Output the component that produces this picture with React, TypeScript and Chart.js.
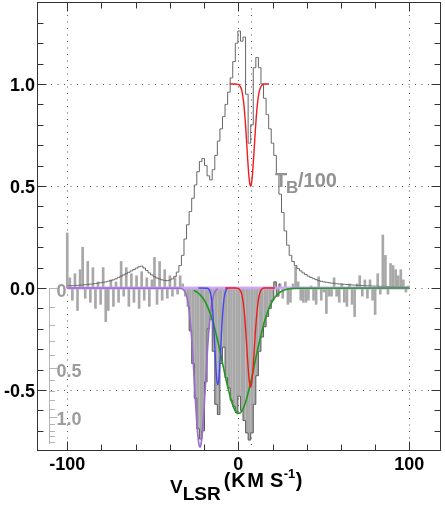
import React, { useEffect, useRef } from 'react';
import { Chart, registerables } from 'chart.js';

Chart.register(...registerables);

// ---- channel grid of the spectra (km/s) ----
const CHANNEL_V0 = -100;
const CHANNEL_DV = 1.5;

// absorption spectrum (e^-tau - 1), one value per channel
const absorption = [
  0.27, 0.05, -0.06, 0.07, -0.11, 0.09, 0.20, -0.05, 0.13, -0.07,
  0.10, -0.10, 0.03, -0.08, 0.10, -0.165, -0.11, 0.04, -0.09, 0.03,
  -0.07, 0.13, -0.04, 0.10, -0.09, 0.07, -0.07, 0.06, -0.10, 0.08,
  -0.06, 0.05, -0.09, 0.04, 0.15, -0.08, 0.13, -0.06, 0.09, -0.05,
  0.06, -0.04, 0.05, -0.03, 0.06, 0.02, -0.04, -0.09, -0.21, -0.37,
  -0.54, -0.69, -0.74, -0.70, -0.46, -0.20, -0.155, -0.31, -0.57, -0.62,
  -0.37, -0.29, -0.44, -0.49, -0.55, -0.58, -0.61, -0.53, -0.60, -0.65,
  -0.71, -0.745, -0.71, -0.57, -0.43, -0.31, -0.24, -0.19, -0.14, -0.10,
  -0.06, 0.03, -0.04, 0.02, -0.05, 0.03, -0.08, -0.07, 0.02, 0.105,
  0.03, -0.06, -0.07, -0.07, -0.06, 0.01, -0.06, -0.08, 0.055, -0.06,
  -0.02, -0.125, -0.04, -0.04, 0.05, -0.04, -0.07, 0.02, -0.07, -0.09,
  0.02, -0.08, -0.14, 0.02, 0.06, -0.04, 0.04, -0.05, 0.04, -0.06,
  -0.13, 0.07, -0.03, 0.26, 0.16, -0.03, 0.12, 0.11, 0.09, 0.06,
  0.09, 0.04, -0.02, 0.01,
];

// emission brightness temperature / 100, one value per channel
const emission = [
  0.010, 0.011, 0.012, 0.012, 0.013, 0.014, 0.015, 0.016, 0.017, 0.019,
  0.020, 0.022, 0.024, 0.026, 0.028, 0.030, 0.033, 0.036, 0.040, 0.045,
  0.052, 0.058, 0.064, 0.070, 0.077, 0.084, 0.090, 0.097, 0.104, 0.107,
  0.098, 0.086, 0.074, 0.064, 0.056, 0.049, 0.044, 0.040, 0.037, 0.036,
  0.039, 0.045, 0.056, 0.078, 0.110, 0.160, 0.240, 0.310, 0.375, 0.440,
  0.505, 0.570, 0.620, 0.635, 0.600, 0.550, 0.530, 0.580, 0.650, 0.720,
  0.780, 0.840, 0.900, 0.960, 1.030, 1.110, 1.200, 1.260, 1.210, 1.230,
  0.950, 0.710, 0.800, 1.080, 1.130, 1.080, 1.000, 0.930, 0.850, 0.780,
  0.710, 0.650, 0.560, 0.460, 0.370, 0.280, 0.210, 0.160, 0.130, 0.110,
  0.095, 0.084, 0.074, 0.066, 0.058, 0.052, 0.046, 0.041, 0.036, 0.033,
  0.030, 0.028, 0.026, 0.024, 0.023, 0.021, 0.020, 0.019, 0.018, 0.017,
  0.016, 0.015, 0.014, 0.013, 0.013, 0.012, 0.011, 0.011, 0.010, 0.010,
  0.009, 0.009, 0.008, 0.008, 0.008, 0.007, 0.007, 0.007, 0.006, 0.006,
  0.006, 0.005, 0.005, 0.005,
];

// range of the absorption spectrum drawn with the dark outline
const OUTLINE_FROM = -30;
const OUTLINE_TO = 25;

// Gaussian fit components
const purpleV = [-100, -34, -33, -32, -31, -30, -29, -28, -27, -26, -25, -24, -23, -22.4, -22, -21, -20, -19, -18, -17, -16, -15, -14, -13, -12];
const purpleY = [0, -0.001, -0.003, -0.009, -0.021, -0.046, -0.093, -0.169, -0.278, -0.414, -0.561, -0.688, -0.767, -0.78, -0.774, -0.709, -0.589, -0.444, -0.303, -0.188, -0.105, -0.054, -0.025, -0.01, -0.004];

const blueV = [-23.3, -18, -17, -16, -15.5, -15, -14.5, -14, -13.5, -13, -12.5, -12, -11.5, -11, -10.5, -10, -9.5, -9, -8.5, -8, -7, -6];
const blueY = [0, -0.001, -0.008, -0.035, -0.064, -0.109, -0.17, -0.246, -0.329, -0.403, -0.456, -0.475, -0.456, -0.403, -0.329, -0.246, -0.17, -0.109, -0.064, -0.035, -0.008, -0.001];

const greenV = [-26, -24, -22, -20, -18, -16, -14, -12, -10, -8, -6, -4, -2, 0, 2, 4, 6, 8, 10, 12, 14, 16, 18, 20, 22, 24, 26, 28, 30, 33, 100];
const greenY = [-0.012, -0.021, -0.036, -0.058, -0.091, -0.135, -0.192, -0.26, -0.337, -0.417, -0.492, -0.555, -0.598, -0.615, -0.604, -0.566, -0.506, -0.433, -0.353, -0.275, -0.205, -0.145, -0.098, -0.064, -0.039, -0.023, -0.013, -0.007, -0.004, -0.001, 0];

const redV = [-7.7, -2, 0, 1, 2, 3, 3.5, 4, 4.5, 5, 5.5, 6, 6.5, 7, 7.2, 7.5, 8, 8.5, 9, 9.5, 10, 10.5, 11, 12, 13, 14, 15, 21.4];
const redY = [0, 0, -0.002, -0.01, -0.03, -0.079, -0.118, -0.169, -0.229, -0.294, -0.36, -0.418, -0.462, -0.483, -0.485, -0.48, -0.454, -0.407, -0.347, -0.281, -0.216, -0.157, -0.109, -0.045, -0.015, -0.004, 0, 0];

// red component shown as e^-tau on top
const redTopV = [-5, -2, 0, 1, 2, 3, 3.5, 4, 4.5, 5, 5.5, 6, 6.5, 7, 7.2, 7.5, 8, 8.5, 9, 9.5, 10, 10.5, 11, 12, 13, 14, 15, 18];
const redTopY = [1, 1, 0.998, 0.99, 0.97, 0.919, 0.878, 0.826, 0.764, 0.697, 0.629, 0.569, 0.524, 0.502, 0.5, 0.505, 0.532, 0.58, 0.642, 0.71, 0.777, 0.838, 0.888, 0.954, 0.984, 0.996, 1, 1];

// zero baseline of the total model
const baseV = [-100, 100];
const baseY = [0, 0];

// axes
const X_MIN = -117.1;
const X_MAX = 118.5;
const Y_MIN = -0.799;
const Y_MAX = 1.402;
const xMinorTicks = [-100, -80, -60, -40, -20, 0, 20, 40, 60, 80, 100];
const xMajorTicks = [-100, 0, 100];
const xTickLabels = ['-100', '0', '100'];
const yMinorTicks = [-0.7, -0.6, -0.5, -0.4, -0.3, -0.2, -0.1, 0, 0.1, 0.2, 0.3, 0.4, 0.5, 0.6, 0.7, 0.8, 0.9, 1.0, 1.1, 1.2, 1.3];
const yMajorTicks = [-0.5, 0, 0.5, 1.0];
const yTickLabels = ['-0.5', '0.0', '0.5', '1.0'];
const gridX = [-100, 0, 7.3, 100];
const gridY = [-0.5, 0, 0.5, 1.0];
const tauTicks = [0, 0.1, 0.2, 0.3, 0.4, 0.5, 0.6, 0.7, 0.8, 0.9, 1.0, 1.1, 1.2, 1.3, 1.4];
const tauMajor = [0, 0.5, 1.0];
const tauLabels = ['0', '0.5', '1.0'];
const TAU_AXIS_END = 1.45;

const FONT = '"Liberation Sans", Arial, Helvetica, sans-serif';

const pts = (xs: number[], ys: number[]) => xs.map((x, i) => ({ x, y: ys[i] }));

const decorPlugin = {
  id: 'decor',
  beforeDatasetsDraw(chart: any) {
    const { ctx, chartArea: a, scales } = chart;
    const x = scales.x, y = scales.y;
    ctx.save();
    ctx.strokeStyle = '#555';
    ctx.lineWidth = 1;
    ctx.setLineDash([1, 5.5]);
    for (const v of gridX) {
      const px = Math.round(x.getPixelForValue(v)) + 0.5;
      ctx.beginPath(); ctx.moveTo(px, a.top); ctx.lineTo(px, a.bottom); ctx.stroke();
    }
    for (const v of gridY) {
      const py = Math.round(y.getPixelForValue(v)) + 0.5;
      ctx.beginPath(); ctx.moveTo(a.left, py); ctx.lineTo(a.right, py); ctx.stroke();
    }
    ctx.restore();
  },
  afterDatasetsDraw(chart: any) {
    const { ctx, chartArea: a, scales } = chart;
    const x = scales.x, y = scales.y;
    const L = a.left - 0.5, R = a.right - 0.5, T = a.top + 0.5, B = a.bottom - 0.5;
    ctx.save();
    // frame
    ctx.strokeStyle = '#333';
    ctx.lineWidth = 1;
    ctx.strokeRect(L, T, R - L, B - T);
    // x ticks
    ctx.beginPath();
    for (const v of xMinorTicks) {
      const len = xMajorTicks.includes(v) ? 9 : 6;
      const px = Math.round(x.getPixelForValue(v)) + 0.5;
      ctx.moveTo(px, B); ctx.lineTo(px, B - len);
      ctx.moveTo(px, T); ctx.lineTo(px, T + len);
    }
    // y ticks
    for (const v of yMinorTicks) {
      const len = yMajorTicks.some((m) => Math.abs(m - v) < 1e-6) ? 9 : 6;
      const py = Math.round(y.getPixelForValue(v)) + 0.5;
      ctx.moveTo(L, py); ctx.lineTo(L + len, py);
      ctx.moveTo(R, py); ctx.lineTo(R - len, py);
    }
    ctx.stroke();

    // tick labels
    ctx.fillStyle = '#000';
    ctx.font = `bold 18px ${FONT}`;
    ctx.textBaseline = 'alphabetic';
    ctx.textAlign = 'right';
    yMajorTicks.forEach((v, i) => {
      ctx.fillText(yTickLabels[i], 35, y.getPixelForValue(v) + 6.5);
    });
    ctx.textAlign = 'center';
    xMajorTicks.forEach((v, i) => {
      ctx.fillText(xTickLabels[i], x.getPixelForValue(v), 469.5);
    });

    // axis title: V_LSR (KM S^-1)
    ctx.textAlign = 'left';
    let cx = 170;
    const put = (txt: string, size: number, base: number, gap = 0) => {
      ctx.font = `bold ${size}px ${FONT}`;
      ctx.fillText(txt, cx, base);
      cx += ctx.measureText(txt).width + gap;
    };
    put('V', 19, 493, 0);
    put('LSR', 19, 500, 3);
    put('(', 20, 487, 1);
    put('K', 20, 487, 1.5);
    put('M', 20, 487, 6);
    put('S', 20, 487, 0.5);
    put('-1', 13, 478, 0.5);
    put(')', 20, 487, 0);

    // optical depth axis (tau) inside the plot
    const ax = 49.5;
    const tauPix = (t: number) => y.getPixelForValue(Math.exp(-t) - 1);
    ctx.strokeStyle = '#b4b4b4';
    ctx.beginPath();
    ctx.moveTo(ax, tauPix(0));
    ctx.lineTo(ax, tauPix(TAU_AXIS_END));
    for (const t of tauTicks) {
      const len = tauMajor.some((m) => Math.abs(m - t) < 1e-6) ? 8 : 5.5;
      const py = Math.round(tauPix(t)) + 0.5;
      ctx.moveTo(ax, py); ctx.lineTo(ax + len, py);
    }
    ctx.stroke();
    ctx.fillStyle = '#9c9c9c';
    ctx.font = `bold 18px ${FONT}`;
    tauMajor.forEach((t, i) => {
      ctx.fillText(tauLabels[i], 56.5, tauPix(t) + 8.5);
    });

    // T_B/100 label
    ctx.fillStyle = '#939393';
    ctx.font = `bold 20px ${FONT}`;
    ctx.fillText('T', 275, 187);
    ctx.font = `bold 17px ${FONT}`;
    ctx.fillText('B', 286, 193);
    ctx.font = `bold 20px ${FONT}`;
    ctx.fillText('/100', 298, 187);
    ctx.restore();
  },
};

export default function App() {
  const ref = useRef<HTMLCanvasElement | null>(null);
  useEffect(() => {
    if (!ref.current) return;
    const channelV = absorption.map((_, i) => CHANNEL_V0 + CHANNEL_DV * i);
    const absPts = pts(channelV, absorption);
    const outlinePts = absPts.filter((p) => p.x >= OUTLINE_FROM && p.x <= OUTLINE_TO);
    const emPts = pts(channelV, emission);
    const line = (data: any[], color: string, width: number, order: number, extra: any = {}) => ({
      type: 'line',
      data,
      borderColor: color,
      borderWidth: width,
      pointRadius: 0,
      fill: false,
      order,
      ...extra,
    });
    const chart = new Chart(ref.current, {
      type: 'line',
      data: {
        datasets: [
          {
            type: 'bar',
            data: absPts,
            backgroundColor: '#a8a8a8',
            borderWidth: 0,
            barThickness: 2,
            order: 20,
          } as any,
          line(outlinePts, '#5c5c5c', 1, 19, { stepped: 'middle' }),
          line(emPts, '#666666', 1, 18, { stepped: 'middle' }),
          line(pts(baseV, baseY), 'rgba(205,165,245,0.9)', 3, 17),
          line(pts(purpleV, purpleY), '#9a6ccc', 1.6, 16, { cubicInterpolationMode: 'monotone' }),
          line(pts(greenV, greenY), '#1f9a1f', 1.6, 15, { cubicInterpolationMode: 'monotone' }),
          line(pts(blueV, blueY), '#4646f0', 1.4, 14, { cubicInterpolationMode: 'monotone' }),
          line(pts(redV, redY), '#f01c1c', 1.4, 13, { cubicInterpolationMode: 'monotone' }),
          line(pts(redTopV, redTopY), '#f01c1c', 1.4, 12, { cubicInterpolationMode: 'monotone' }),
        ] as any,
      },
      options: {
        animation: false,
        responsive: false,
        devicePixelRatio: 1,
        layout: { padding: { left: 38, top: 2, right: 4, bottom: 56 } },
        scales: {
          x: { type: 'linear', min: X_MIN, max: X_MAX, display: false, offset: false },
          y: { type: 'linear', min: Y_MIN, max: Y_MAX, display: false },
        },
        plugins: { legend: { display: false }, tooltip: { enabled: false } },
      } as any,
      plugins: [decorPlugin],
    });
    return () => chart.destroy();
  }, []);
  return (
    <div style={{ position: 'absolute', left: 0, top: 0, width: 445, height: 507, background: '#fff' }}>
      <canvas ref={ref} width={445} height={507} style={{ width: 445, height: 507, display: 'block' }} />
    </div>
  );
}
